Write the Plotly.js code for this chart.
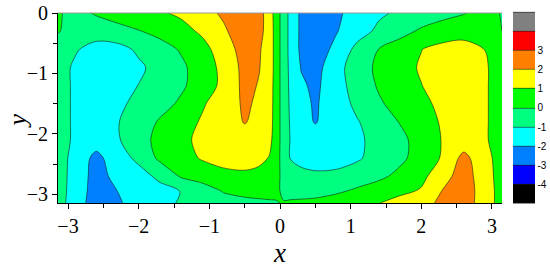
<!DOCTYPE html>
<html>
<head>
<meta charset="utf-8">
<script src="https://cdn.plot.ly/plotly-3.0.1.min.js"></script>
<style>
  html, body { margin: 0; padding: 0; background: #fff; }
  #chart { width: 550px; height: 268px; }
</style>
</head>
<body>
<div id="chart"></div>
<script>
// grid (x denser near 0 where the field is steep)
var xs = [-3.1416, -2.9, -2.6, -2.3, -2.0, -1.7, -1.4, -1.1, -0.8, -0.5, -0.3, -0.15, -0.05,
          0.05, 0.15, 0.3, 0.5, 0.8, 1.1, 1.4, 1.7, 2.0, 2.3, 2.6, 2.9, 3.1416];
var ys = [0, -0.3, -0.6, -0.9, -1.2, -1.5, -1.8, -2.1, -2.4, -2.7, -2.95, -3.1416];

// one row per y value, left to right
var zRows = [
  [ 0.1, -0.3, 0.1, 0.5, 0.75, 0.9, 1.15, 1.65, 2.15, 2.6, 2.4, 1.5, 0.5,
   -0.5, -1.3, -2.2, -2.6, -2.15, -1.65, -1.15, -0.85, -0.6, -0.3, -0.05, 0.3, -0.05],
  [ 0.05, -0.3, -0.55, -0.4, -0.05, 0.3, 0.7, 1.15, 1.85, 2.6, 2.3, 1.6, 0.5,
   -0.5, -1.3, -2.2, -2.6, -2.05, -1.4, -0.8, -0.35, 0.15, 0.45, 0.6, 0.45, 0.0],
  [-0.4, -0.9, -1.35, -1.3, -0.85, -0.4, 0.1, 0.7, 1.45, 2.45, 2.1, 1.6, 0.5,
   -0.5, -1.3, -2.2, -2.5, -1.75, -0.7, 0.02, 0.5, 0.98, 1.3, 1.4, 0.99, 0.6],
  [-0.6, -1.15, -1.5, -1.55, -1.15, -0.7, -0.2, 0.5, 1.25, 2.3, 2.05, 1.6, 0.5,
   -0.5, -1.25, -2.05, -2.35, -1.35, -0.45, 0.2, 0.65, 1.1, 1.45, 1.6, 1.1, 0.6],
  [-0.6, -1.15, -1.55, -1.45, -0.98, -0.6, -0.15, 0.45, 1.25, 2.25, 1.95, 1.5, 0.5,
   -0.5, -1.2, -1.85, -2.2, -1.4, -0.55, 0.1, 0.55, 0.98, 1.4, 1.6, 1.1, 0.6],
  [-0.6, -1.15, -1.5, -1.2, -0.75, -0.35, 0.15, 0.9, 1.45, 2.15, 1.85, 1.45, 0.5,
   -0.5, -1.15, -1.75, -2.1, -1.5, -0.75, -0.12, 0.35, 0.8, 1.2, 1.5, 1.1, 0.6],
  [-0.6, -1.15, -1.4, -1.05, -0.5, 0.1, 0.6, 1.1, 1.5, 2.05, 1.75, 1.4, 0.5,
   -0.5, -1.1, -1.7, -2.05, -1.55, -1.05, -0.5, 0.05, 0.6, 1.1, 1.4, 1.1, 0.6],
  [-0.6, -1.15, -1.5, -1.1, -0.4, 0.3, 0.8, 1.2, 1.5, 1.6, 1.45, 1.25, 0.5,
   -0.5, -1.05, -1.4, -1.6, -1.5, -1.15, -0.7, -0.25, 0.4, 1.05, 1.4, 1.1, 0.6],
  [-0.6, -1.3, -2.3, -1.4, -0.8, 0.2, 0.65, 1.08, 1.35, 1.4, 1.25, 0.95, 0.35,
   -0.4, -1.05, -1.3, -1.45, -1.4, -1.1, -0.65, -0.2, 0.4, 1.1, 2.3, 1.3, 0.6],
  [-0.6, -1.35, -2.4, -1.7, -1.35, -0.8, 0.1, 0.45, 0.7, 0.8, 0.7, 0.55, 0.25,
   -0.25, -0.5, -0.7, -0.8, -0.75, -0.55, -0.2, 0.25, 0.75, 1.6, 2.5, 1.4, 0.6],
  [-0.6, -1.4, -2.45, -2.0, -1.6, -1.3, -0.98, -0.55, 0.05, 0.25, 0.25, 0.2, 0.1,
   -0.1, -0.2, -0.3, -0.4, -0.15, 0.2, 0.5, 0.8, 1.1, 2.05, 2.55, 1.5, 0.6],
  [-0.6, -1.5, -2.5, -2.1, -1.7, -1.3, -0.9, -0.6, -0.4, -0.25, -0.15, -0.08, -0.03,
    0.03, 0.08, 0.15, 0.3, 0.55, 0.75, 0.98, 1.35, 1.75, 2.15, 2.5, 1.5, 0.6]
];

// contour levels -5..5; the two bands outside them never occur and are left blank
var levelStart = -5;
var levelEnd = 5;
var bandColors = ['#ffffff', '#000000', '#0000ff', '#0080ff', '#00ffff', '#00ff80',
                  '#00ff00', '#ffff00', '#ff8000', '#ff0000', '#808080', '#ffffff'];
var barTicks = [-4, -3, -2, -1, 0, 1, 2, 3];

var colorscale = bandColors.map(function(c, i) {
  return [i / (bandColors.length - 1), c];
});

var serif = 'Liberation Serif, Times New Roman, serif';

// visible bar: 10 bands, 192px; the blank half bands add 9.6px at each end
var bandPx = 19.2;

var trace = {
  type: 'contour',
  x: xs,
  y: ys,
  z: zRows,
  autocontour: false,
  contours: {start: levelStart, end: levelEnd, size: 1, coloring: 'fill'},
  colorscale: colorscale,
  line: {color: '#1a1a1a', width: 0.6, smoothing: 0.9},
  hoverinfo: 'skip',
  colorbar: {
    thickness: 22, thicknessmode: 'pixels',
    len: bandPx * 11, lenmode: 'pixels',
    xref: 'container', x: 513 / 550, xanchor: 'left', xpad: 0,
    yref: 'container', y: 1 - (13 - bandPx / 2) / 268, yanchor: 'top', ypad: 0,
    tickmode: 'array', tickvals: barTicks,
    ticktext: barTicks.map(function(v) { return String(v); }),
    ticks: '',
    tickfont: {family: 'Liberation Sans, Arial, sans-serif', size: 10, color: '#000'},
    outlinewidth: 0
  }
};

var layout = {
  width: 550,
  height: 268,
  margin: {l: 58, r: 48, t: 13, b: 65},
  paper_bgcolor: 'white',
  plot_bgcolor: 'white',
  showlegend: false,
  xaxis: {
    range: [-Math.PI, Math.PI], tick0: 0, dtick: 1,
    ticks: 'outside', ticklen: 5, tickcolor: '#000', tickwidth: 1,
    minor: {dtick: 0.5, tick0: 0, ticks: 'outside', ticklen: 4, tickcolor: '#000'},
    showline: true, linecolor: '#000', linewidth: 1,
    showgrid: false, zeroline: false,
    tickfont: {family: serif, size: 20, color: '#000'},
    title: {text: '<i>x</i>', font: {family: serif, size: 27, color: '#000'}, standoff: 8}
  },
  yaxis: {
    range: [-Math.PI, 0], tick0: 0, dtick: 1,
    ticks: 'outside', ticklen: 5, tickcolor: '#000', tickwidth: 1,
    minor: {dtick: 0.5, tick0: 0, ticks: 'outside', ticklen: 4, tickcolor: '#000'},
    showline: true, linecolor: '#000', linewidth: 1,
    showgrid: false, zeroline: false,
    tickfont: {family: serif, size: 20, color: '#000'}
  },
  annotations: [{
    text: '<i>y</i>', xref: 'paper', yref: 'paper',
    x: (1 - 58) / 444, y: 1 - (121 - 13) / 190,
    xanchor: 'left', yanchor: 'middle', textangle: -90, showarrow: false,
    borderpad: 0,
    font: {family: serif, size: 26, color: '#000'}
  }],
  shapes: [{
    type: 'line', xref: 'paper', yref: 'paper',
    x0: 0, x1: 1, y0: 1, y1: 1,
    line: {color: '#999', width: 1}
  }]
};

Plotly.newPlot('chart', [trace], layout, {displayModeBar: false, staticPlot: true});
</script>
</body>
</html>
